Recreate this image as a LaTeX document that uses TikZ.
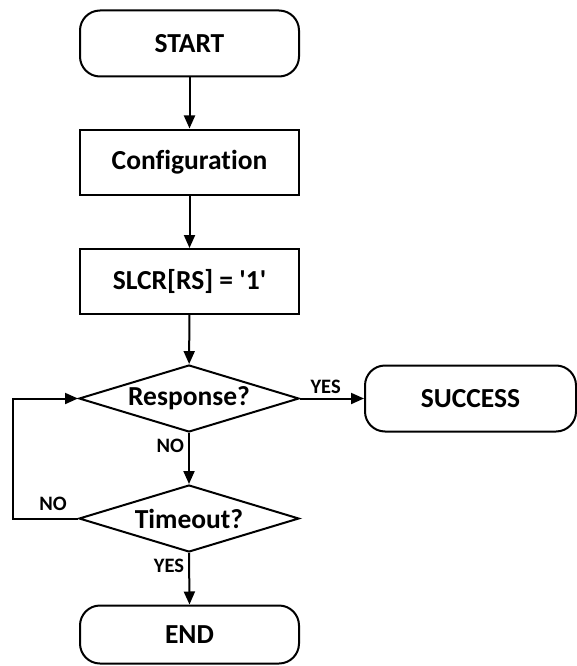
\documentclass[tikz,border=0pt]{standalone}
\usepackage{fontspec}
\setmainfont{Carlito}[Ligatures={TeXOff,NoCommon}]
\usetikzlibrary{shapes.geometric,arrows.meta}
\begin{document}
\begin{tikzpicture}[x=1pt,y=-1pt,
  base/.style={draw=black,line width=2pt,fill=white,font=\bfseries\fontsize{27.5}{32}\selectfont,inner sep=0pt},
  term/.style={base,rounded corners=20pt,minimum width=219pt,minimum height=66pt},
  proc/.style={base,minimum width=219pt,minimum height=65pt},
  dec/.style={base,diamond,aspect=3.28,minimum width=220pt,minimum height=67pt},
  lbl/.style={font=\bfseries\fontsize{20.5}{24}\selectfont,inner sep=0pt},
  flow/.style={line width=2pt,-{Triangle[length=13pt,width=11pt]}}
]
\useasboundingbox (0,0) rectangle (576,666);
\node[term] (start) at (189.5,43.5) {START};
\node[proc] (conf) at (189.5,162) {Configuration};
\node[proc] (slcr) at (189.5,281.5) {SLCR[RS] = '1'};
\node[dec] (resp) at (189,398.5) {Response?};
\node[term,minimum width=211pt] (succ) at (470.5,398.5) {SUCCESS};
\node[dec] (tout) at (189,518.5) {Timeout?};
\node[term,minimum height=58pt] (end) at (189.5,634.5) {END};
\coordinate (lb) at (13,518.5);
\coordinate (lt) at (13,398.5);
\draw[flow] (start) -- (conf);
\draw[flow] (conf) -- (slcr);
\draw[flow] (slcr) -- (resp);
\draw[flow] (resp.east) -- (succ.west) node[lbl,pos=0.4,above=4pt] {YES};
\draw[flow] (resp.south) -- (tout.north) node[lbl,pos=0.25,left=4pt] {NO};
\draw[flow] (tout.south) -- (end.north) node[lbl,pos=0.25,left=4pt] {YES};
\draw[flow] (tout.west) -- (lb) -- (lt) -- (resp.west);
\node[lbl] at (53,504) {NO};
\end{tikzpicture}
\end{document}
